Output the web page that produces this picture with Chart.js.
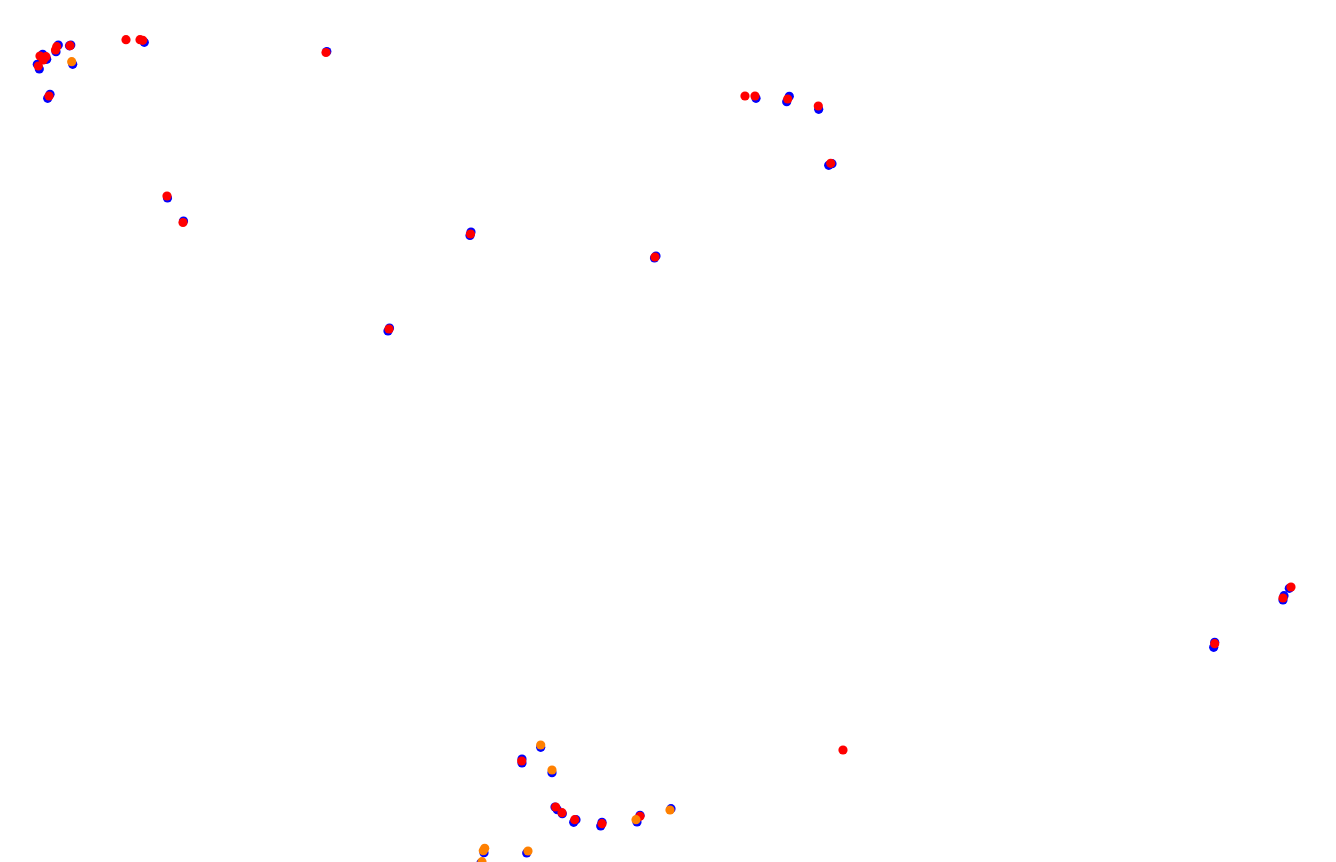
<!DOCTYPE html>
<html><head><meta charset="utf-8">
<style>html,body{margin:0;padding:0;background:#fff}canvas{display:block}</style>
<script src="https://cdn.jsdelivr.net/npm/chart.js@4"></script></head>
<body><canvas id="c" width="1336" height="862"></canvas>
<script>
const blueX=[58.3,56,69.5,70.8,72.7,42.7,46.7,37.3,39.3,50,47.7,144.3,326.8,167.5,183.5,471,470,656,654.5,389.5,388,756,789.3,786.7,818.7,828.7,832,1289.3,1284,1283,1214.7,1213.7,540.7,522,522,552,555,557.3,562.3,576,573.7,602,600.7,640,637,671,484,526.7,481];
const blueY=[45,51.7,45.8,45,64.3,54.3,59.3,64.3,69,94.3,98.3,42.3,51.5,198,221,232,235.5,256,258,328,331,98.3,96.3,101.7,109.3,165.3,163.7,588.3,595.7,600,642.3,647.3,747.3,759,763,772.7,807,809.7,813.7,819.7,822.3,822.3,826,815.3,822,808.7,852.7,853,863];
const redX=[56.7,55.5,70,126,140,142.7,40,46,43.3,38.3,49,326,167,183,470.5,655,389,745,755,787.7,818.3,830.7,1291,1283,1214.7,843,521.7,555.7,562,574.7,602,640];
const redY=[46.7,50,45.7,39.7,39.7,40.3,56,56.7,60,66,96,52.5,196,222.5,234,257,329,96,96,99,106,163.3,587,598,643.7,750,761,807,812.7,819.7,823.7,816.3];
const orangeX=[71.7,540.7,552,636,670,484.7,483.3,528,482];
const orangeY=[61.7,745,770,819.7,810,848.3,850.7,851,861.7];
const pts=(xs,ys)=>ys.map((y,i)=>({x:xs[i],y}));
const ds=(d,c,o)=>({data:d,order:o,pointRadius:4.6,pointHoverRadius:4.6,borderWidth:0,pointBorderWidth:0,pointBackgroundColor:c,pointBorderColor:c,showLine:false,clip:false});
new Chart(document.getElementById('c'),{
 type:'scatter',
 data:{datasets:[ds(pts(blueX,blueY),'#0000ff',3),ds(pts(redX,redY),'#ff0000',2),ds(pts(orangeX,orangeY),'#ff8000',1)]},
 options:{responsive:false,animation:false,layout:{padding:0,autoPadding:false},
  plugins:{legend:{display:false},tooltip:{enabled:false}},
  scales:{x:{type:'linear',display:false,min:0,max:1336},y:{type:'linear',display:false,reverse:true,min:0,max:862}}}
});
</script></body></html>
